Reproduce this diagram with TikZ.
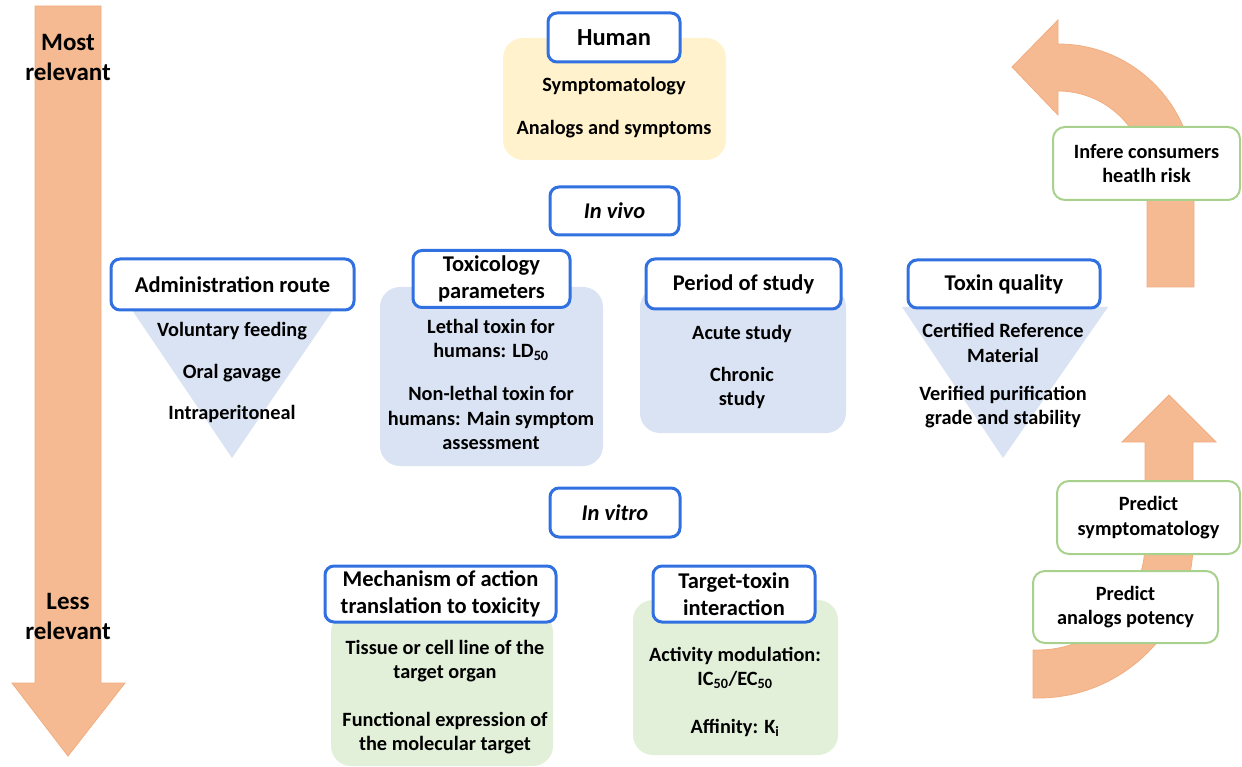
\documentclass[tikz,border=0pt]{standalone}
\usepackage{fontspec}
\setmainfont{Carlito}
\definecolor{boxblue}{HTML}{3070E0}
\definecolor{yellowfill}{HTML}{FFF2CC}
\definecolor{bluefill}{HTML}{DAE3F3}
\definecolor{greenfill}{HTML}{E2F0D9}
\definecolor{greenline}{HTML}{A9D18E}
\definecolor{orangefill}{HTML}{F5BA91}
\definecolor{orangeline}{HTML}{F2AD80}
\begin{document}
\begin{tikzpicture}[x=1pt,y=-1pt,
  titlebox/.style={draw=boxblue, line width=3pt, rounded corners=9pt, fill=white,
    align=center, inner sep=0pt, font=\fontsize{22.5}{27.5}\selectfont\bfseries},
  greenbox/.style={draw=greenline, line width=2pt, rounded corners=12pt, fill=white,
    align=center, inner sep=0pt, font=\fontsize{20.3}{24.5}\selectfont\bfseries},
  bodytext/.style={align=center, inner sep=0pt, font=\fontsize{20.3}{24.5}\selectfont\bfseries},
  sidetext/.style={align=center, inner sep=0pt, font=\fontsize{25}{30}\selectfont\bfseries},
  arrowshape/.style={fill=orangefill, draw=orangeline, line width=0.8pt},
  panel/.style={rounded corners=20pt}
]
\useasboundingbox (0,0) rectangle (1242,767);

% left relevance arrow
\path[arrowshape] (35,6) -- (101,6) -- (101,683) -- (125,683) -- (68,756) -- (12,683) -- (35,683) -- cycle;
\node[sidetext] (most) at (68,57) {Most\\relevant};
\node[sidetext] (less) at (68,616) {Less\\relevant};

% right curved arrows
\path[arrowshape] (1147,287) -- (1147,180) arc[start angle=0,end angle=-90,radius=89]
  -- (1058,115) -- (1012,67) -- (1058,20) -- (1058,44)
  arc[start angle=-90,end angle=0,radius=136] -- (1194,287) -- cycle;
\path[arrowshape] (1033,650) -- (1038,650) arc[start angle=90,end angle=0,radius=107]
  -- (1145,442) -- (1122,442) -- (1169,395) -- (1216,442) -- (1193,442) -- (1193,543)
  arc[start angle=0,end angle=90,radius=155] -- (1033,698) -- cycle;

% panels
\fill[yellowfill,panel] (503,38) rectangle (726,160);
\fill[bluefill,panel] (380,287) rectangle (603,466);
\fill[bluefill,panel] (640,287) rectangle (846,433);
\fill[greenfill,panel] (331,612) rectangle (553,766);
\fill[greenfill,panel] (633,600) rectangle (838,755);
\fill[bluefill] (132,310) -- (333,310) -- (232,458) -- cycle;
\fill[bluefill] (902,307) -- (1108,307) -- (1003,458) -- cycle;

% title boxes
\node[titlebox, minimum width=132, minimum height=49, font=\fontsize{24.5}{28}\selectfont\bfseries] (human) at (614,37.5) {Human};
\node[titlebox, minimum width=129, minimum height=48] (invivo) at (614.5,211) {\itshape In vivo};
\node[titlebox, minimum width=243, minimum height=51] (admin) at (232.5,284.5) {Administration route};
\node[titlebox, minimum width=157, minimum height=57] (toxpar) at (491.5,279) {Toxicology\\parameters};
\node[titlebox, minimum width=195, minimum height=50] (period) at (743.5,284) {\raisebox{-1.5pt}{Period of study}};
\node[titlebox, minimum width=192, minimum height=48] (quality) at (1004,284) {\raisebox{-1.5pt}{Toxin quality}};
\node[titlebox, minimum width=130, minimum height=49] (invitro) at (615,512.5) {\itshape In vitro};
\node[titlebox, minimum width=231, minimum height=56] (mech) at (440.5,594) {Mechanism of action\\translation to toxicity};
\node[titlebox, minimum width=162, minimum height=56] (target) at (734,594) {Target-toxin\\interaction};

% body texts
\node[bodytext] (sympt) at (614,86) {Symptomatology};
\node[bodytext] (analogs) at (614,129) {Analogs and symptoms};
\node[bodytext] (vol) at (232,331) {Voluntary feeding};
\node[bodytext] (oral) at (232,373) {Oral gavage};
\node[bodytext] (ip) at (232,414) {Intraperitoneal};
\node[bodytext] (lethal) at (491,340) {Lethal toxin for\\humans: LD\textsubscript{50}};
\node[bodytext] (nonlethal) at (491,418) {Non-lethal toxin for\\humans: Main symptom\\assessment};
\node[bodytext] (acute) at (742,334) {Acute study};
\node[bodytext] (chronic) at (742,388) {Chronic\\study};
\node[bodytext] (crm) at (1003,343) {Certified Reference\\Material};
\node[bodytext] (verified) at (1003,407) {Verified purification\\grade and stability};
\node[bodytext] (tissue) at (445,661) {Tissue or cell line of the\\target organ};
\node[bodytext] (functional) at (445,733) {Functional expression of\\the molecular target};
\node[bodytext] (activity) at (735,668) {Activity modulation:\\IC\textsubscript{50}/EC\textsubscript{50}};
\node[bodytext] (affinity) at (735,728) {Affinity: K\textsubscript{i}};

% green boxes
\node[greenbox, minimum width=187, minimum height=73] (infere) at (1146.5,163.5) {Infere consumers\\heatlh risk};
\node[greenbox, minimum width=183, minimum height=73] (predsym) at (1148.5,517.5) {Predict\\symptomatology};
\node[greenbox, minimum width=185, minimum height=72] (predana) at (1125.5,607) {Predict\\analogs potency};
\end{tikzpicture}
\end{document}
